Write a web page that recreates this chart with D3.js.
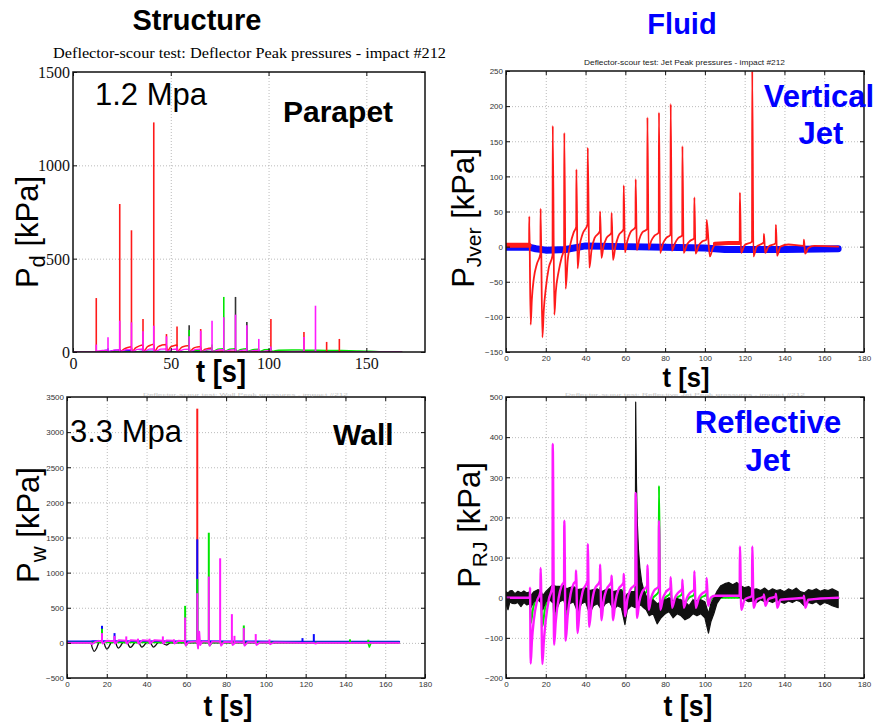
<!DOCTYPE html>
<html>
<head>
<meta charset="utf-8">
<script src="https://cdn.jsdelivr.net/npm/d3@7"></script>
<style>
  body { margin: 0; background: #fff; }
  svg { display: block; }
</style>
</head>
<body>
<script>
// ---------- Axis ticks ----------
const deflXTicks = [0, 50, 100, 150];
const deflYTicks = [0, 500, 1000, 1500];
const jetXTicks = [0, 20, 40, 60, 80, 100, 120, 140, 160, 180];
const jetYTicks = [-150, -100, -50, 0, 50, 100, 150, 200, 250];
const wallYTicks = [-500, 0, 500, 1000, 1500, 2000, 2500, 3000, 3500];
const reflYTicks = [-200, -100, 0, 100, 200, 300, 400, 500];

// ---------- Deflector (parapet) peak pressures [t (s), kPa] ----------
const deflRedPeaks = [[11.9,289],[23.9,793],[29.9,652],[35.8,177],[41.3,1230],[47.8,96],[53.2,137],[65.3,123],[101.2,177],[118.1,107],[129.7,54],[136.2,70]];
const deflBlackPeaks = [[59.4,143],[83.1,295],[88.9,161]];
const deflGreenPeaks = [[59.4,118],[71.1,40],[77.1,295],[101.2,20]];
const deflBluePeaks = [[17.9,20],[23.9,15]];
const deflPinkPeaks = [[11.9,40],[17.9,79],[23.9,168],[29.9,159],[35.8,111],[41.3,141],[47.8,84],[53.2,30],[59.4,84],[65.3,114],[71.1,168],[77.1,186],[83.1,200],[88.9,143],[95.0,70],[101.2,30],[118.1,80],[124.0,248]];
const deflRedBase = [[0,0],[23.8,0],[24.5,4],[26,15],[28,24],[29.8,28],[30.3,4],[32,22],[34,33],[35.7,37],[36.2,5],[38,28],[40,38],[41.2,42],[41.7,5],[43.5,28],[45.5,37],[47.7,40],[48.2,5],[50,27],[52,35],[53.1,38],[53.6,5],[55.5,25],[57.5,32],[59.3,35],[59.8,4],[61.5,20],[63.5,27],[65.2,30],[65.7,3],[67.5,15],[69.5,20],[71,22],[71.5,2],[76,5],[83,3],[100,1],[168,0]];
const deflGreenBase = [[0,0],[59,0],[60,3],[63,8],[65.2,10],[66,3],[69,12],[71,15],[71.6,3],[74,15],[77,18],[77.5,3],[80,15],[83,18],[83.5,3],[86,14],[88.8,17],[89.3,3],[92,12],[94.9,15],[95.4,3],[98,12],[101,14],[101.8,4],[105,10],[112,11],[118,10],[125,9],[135,8],[145,6],[152,4],[158,1],[168,0]];
const deflBlueBase = [[0,0],[14,0],[15,5],[17.8,10],[18.3,2],[21,9],[23.8,11],[24.3,2],[27,8],[29.8,9],[30.3,1],[36,4],[50,2],[70,1],[168,0]];
const deflPinkBase = [[0,0],[11.8,0],[12.2,5],[15,8],[17.8,10],[18.2,3],[21,10],[23.8,12],[24.3,3],[27,12],[29.8,14],[30.3,3],[33,14],[35.7,16],[36.2,3],[39,15],[41.2,17],[41.7,3],[45,15],[47.7,17],[48.2,3],[51,14],[53.1,16],[53.6,3],[57,14],[59.3,15],[59.8,3],[63,14],[65.2,15],[65.7,3],[69,13],[71,14],[71.5,3],[75,12],[77,13],[77.5,3],[81,11],[83,12],[83.5,3],[87,10],[88.8,11],[89.3,2],[93,9],[95,10],[95.5,2],[101,8],[102,1],[118,3],[119,1],[124,3],[125,0],[168,0]];
const deflBlackBase = [[0,1],[168,1]];

// ---------- Vertical jet pressures [t (s), kPa] ----------
const jetVerBlue = [[0,-1],[12,-1],[15,-3],[20,-5],[30,-4],[40,1],[60,0],[80,-1],[100,-2],[110,-4],[140,-4],[167,-3]];
const jetVerRedFlat1 = [[0,2],[11.6,2]];
const jetVerRedFlat2 = [[105,4],[112,5],[117.4,5]];
const jetVerRed = [
  [0,2],[11.6,2],[11.7,43],[12.4,-111],[13,-75],[14,-45],[15.5,-25],[17.3,-10],
  [17.4,54],[18.3,-129],[19,-90],[20,-60],[21.5,-30],[23.4,-12],
  [23.5,172],[24.3,-97],[25,-65],[26.5,-35],[28,-15],[29.2,-3],
  [29.3,162],[30,-60],[31,-20],[32.5,5],[34,20],[35.3,28],
  [35.4,110],[36,-31],[37,0],[38.5,18],[41,32],
  [41.1,141],[41.9,-30],[43,-5],[44.5,12],[47.2,22],
  [47.3,50],[48,-16],[49,0],[50.5,12],[53,20],
  [53.1,48],[53.8,-19],[55,0],[56.5,15],[59.1,25],
  [59.2,87],[59.8,-8],[61,8],[62.5,20],[65.1,28],
  [65.2,96],[65.8,-5],[67,10],[68.5,20],[71,25],
  [71.1,184],[71.7,-4],[73,8],[74.5,15],[76.8,20],
  [76.9,191],[77.5,-9],[79,5],[80.5,12],[82.7,17],
  [82.8,203],[83.4,-6],[85,5],[86.5,12],[88.6,16],
  [88.7,143],[89.3,-9],[91,3],[92.5,8],[94.6,12],
  [94.7,70],[95.3,-10],[97,2],[98.5,7],[100.8,10],
  [100.9,38],[102.5,-14],[104,-2],[106,5],[117.5,6],
  [117.6,77],[118.2,-9],[120,2],[123.7,7],
  [123.8,250],[124.4,-14],[126,0],[129.6,6],
  [129.7,18],[130.3,-9],[132,0],[135.6,5],
  [135.7,31],[136.3,-13],[138,0],[142,3],[149.7,1],
  [149.8,10],[150.4,-10],[152,-2],[155,1],[167,0]
];

// ---------- Wall pressures [t (s), kPa] ----------
const wallRedPeaks = [[65.5,3334]];
const wallBluePeaks = [[17.6,243],[23.9,139],[65.5,1474],[118.4,68],[124.1,125]];
const wallGreenPeaks = [[17.6,200],[59.4,527],[65.5,910],[71.3,1568],[88.9,248],[142.3,50],[151.5,45]];
const wallPinkPeaks = [[17.6,139],[23.9,100],[29.8,92],[35.7,60],[41.5,60],[48.2,92],[53.8,50],[59.4,361],[65.5,707],[71.3,944],[77.0,1204],[82.9,409],[84.2,100],[88.9,210],[94.9,125],[101.8,50]];
const wallBlueBase = [[0,18],[12,18],[13,22],[60,20],[66,24],[80,20],[110,16],[167,16]];
const wallGreenBase = [[0,5],[59,5],[59.9,-40],[61,5],[71,5],[71.8,-40],[73,5],[89,5],[89.4,-30],[90.5,5],[151.3,5],[152,-60],[153,5],[167,5]];
const wallBlack = [[0,0],[12,0],[12.6,-60],[13.7,-122],[14.8,-80],[15.8,-10],[16.5,10],[18.6,0],[19.2,-50],[20,-89],[21,-60],[22,-5],[22.6,10],[24.5,0],[25,-40],[25.8,-74],[26.8,-50],[27.8,-5],[28.5,8],[30.4,0],[31,-35],[31.8,-65],[32.8,-45],[33.8,-5],[34.5,8],[36.3,0],[36.8,-30],[37.6,-60],[38.6,-40],[39.6,-5],[40.3,5],[42,0],[42.6,-30],[43.4,-60],[44.4,-40],[45.4,-5],[46,5],[48,0],[49,-20],[50,-30],[51,-15],[52,0],[167,0]];
const wallPinkBase = [[0,0],[12,0],[12.5,-20],[14,10],[16,30],[17.5,20],[18,-10],[20,30],[23.8,25],[24.2,-10],[26,40],[29.7,30],[30.1,-10],[32,40],[35.6,30],[36,-10],[38,40],[41.4,30],[41.8,-10],[44,40],[48.1,30],[48.5,-10],[50,35],[53.7,30],[54.1,-10],[56,30],[59.3,25],[59.7,-40],[61,10],[65.4,20],[65.9,-80],[66.5,160],[67,-30],[68,20],[71.2,15],[71.7,-40],[73,20],[77,15],[77.5,-40],[79,15],[82.8,10],[83.3,-30],[85,10],[88.8,5],[89.3,-40],[91,10],[94.8,5],[95.3,-30],[97,5],[101.7,5],[102.2,-20],[104,5],[118,0],[124,0],[125,-10],[126,0],[167,0]];

// ---------- Reflective jet pressures ----------
// black trace envelope: [t (s), lower kPa, upper kPa]
const reflBlackBand = [
  [0,-15,15],[1,-30,12],[2,-10,17],[3,-14,18],[4.5,-15,10],[6,-12,16],[7.5,-22,12],[9,-12,17],[10.5,-18,12],[11.8,-15,14],
  [12.5,-25,5],[14,-10,15],[16,-5,20],[17.5,-12,18],[18.5,-30,5],[20,-10,15],[22,-5,25],[23.4,-12,32],[24.5,-15,30],[25,-35,28],
  [27,-10,28],[29,-5,30],[30.5,-30,22],[32,-15,25],[34,-10,28],[36,-35,20],[38,-15,22],[40,-10,25],[42,-40,18],[44,-20,20],
  [46,-15,22],[48,-30,15],[50,-15,20],[52,-10,22],[54,-30,15],[56,-20,18],[58,-25,20],[59.8,-67,0],[61,-30,10],[63,-20,15],
  [65,-25,15],[65.2,-20,487],[65.6,-18,286],[66,-15,190],[66.6,-16,120],[67.3,-18,75],[68.2,-20,40],[69.2,-25,20],[70.5,-30,5],
  [72,-45,-10],[74,-40,-5],[76,-65,-15],[78,-50,-10],[80,-40,-5],[82,-35,0],[84,-50,-8],[86,-40,-2],[88,-45,-5],[90,-55,-10],
  [92,-50,-20],[94,-40,-5],[96,-45,-8],[98,-40,-5],[100,-50,-10],[101.8,-88,-40],[103,-60,-15],[104.5,-40,0],[106,-15,15],
  [108,0,30],[110,5,35],[112,8,38],[114,3,32],[116,5,38],[118,0,30],[120,-5,25],[122,-10,28],[124,-8,20],[126,-12,22],
  [128,-5,18],[130,-10,24],[132,-8,16],[134,-12,22],[136,-6,18],[138,-10,20],[140,-14,15],[142,-8,22],[144,-12,18],
  [146,-6,24],[148,-10,15],[150,-20,12],[152,-12,20],[154,-15,18],[156,-10,22],[158,-18,16],[160,-12,20],[162,-15,18],
  [164,-20,22],[167,-25,15]
];
const reflGreen = [
  [0,0],[12,0],[12.5,-63],[13.5,-30],[15,-5],[17.3,5],[17.4,20],[18.3,-71],[19.5,-30],[21,-5],[23.4,8],
  [23.5,30],[24.2,-50],[26,-10],[29.2,12],[29.3,30],[30,-45],[32,-5],[35.1,15],[35.2,25],[36,-40],[38,0],[41,20],
  [41.1,30],[41.8,-35],[44,0],[47.2,20],[47.3,25],[48,-30],[50,0],[53,20],[53.1,25],[53.8,-30],[56,0],[59.1,20],
  [59.2,25],[59.9,-25],[62,0],[65.1,18],[65.2,40],[65.9,-25],[68,0],[71,18],[71.1,30],[71.8,-20],[74,0],[76.8,15],
  [76.9,279],[77.6,-20],[80,0],[82.7,12],[82.8,15],[83.5,-15],[86,0],[88.6,10],[88.7,15],[89.4,-15],[92,0],
  [94.6,8],[94.7,12],[95.4,-15],[98,0],[100.8,8],[100.9,10],[101.6,-15],[104,0],[149.7,0],[150.5,-20],[152,-3],[167,0]
];
const reflPink = [
  [0,0],[12,0],[12.1,25],[12.4,-164],[13,-110],[14,-55],[15.5,-10],[17.3,15],
  [17.4,74],[18.3,-165],[19,-110],[20,-55],[21.5,-5],[23.4,30],
  [23.5,383],[24.2,-117],[25,-60],[26.5,0],[28,30],[29.2,40],
  [29.3,192],[30,-107],[31,-45],[32.5,10],[34,35],[35.1,42],
  [35.2,68],[36,-88],[37,-30],[38.5,15],[41,42],
  [41.1,134],[41.8,-73],[43,-20],[44.5,20],[47.2,42],
  [47.3,82],[48,-56],[49,-10],[50.5,20],[53,40],
  [53.1,55],[53.8,-56],[55,-10],[56.5,20],[59.1,38],
  [59.2,59],[59.9,-46],[61,-5],[62.5,20],[65.1,35],
  [65.2,261],[65.9,-50],[67,-10],[68.5,15],[71,30],
  [71.1,81],[71.8,-30],[73,0],[74.5,18],[76.8,28],
  [76.9,192],[77.6,-30],[79,0],[80.5,15],[82.7,25],
  [82.8,51],[83.5,-25],[85,0],[86.5,12],[88.6,22],
  [88.7,45],[89.4,-25],[91,0],[92.5,12],[94.6,20],
  [94.7,66],[95.4,-25],[97,0],[98.5,10],[100.8,18],
  [100.9,49],[101.6,-20],[103,0],[105,5],[117.5,5],
  [117.6,128],[118.3,-30],[120,-5],[123.7,5],
  [123.8,128],[124.5,-25],[126,-5],[129.6,3],
  [129.7,8],[130.4,-20],[132,-3],[135.6,3],
  [135.7,10],[136.4,-25],[138,-5],[149.7,0],
  [149.8,5],[150.5,-25],[152,-5],[167,0]
];

// ---------- Drawing ----------
const SANS = "Arial, 'Liberation Sans', Helvetica, sans-serif";
const SERIF = "'Times New Roman', 'Liberation Serif', serif";
const RED = '#ff1a1a', BLUE = '#0a0aff', GREEN = '#00e600', PINK = '#ff1aff', BLACK = '#111';

const svg = d3.select('body').append('svg').attr('width', 878).attr('height', 722);
svg.append('rect').attr('width', 878).attr('height', 722).attr('fill', '#fff');
const defs = svg.append('defs');

function makePanel(c) {
  const x = d3.scaleLinear().domain(c.xDomain).range([c.left, c.right]);
  const y = d3.scaleLinear().domain(c.yDomain).range([c.bottom, c.top]);
  const w = c.right - c.left, h = c.bottom - c.top;
  const g = svg.append('g');
  const inner = (arr, dom) => arr.filter(v => v > dom[0] && v < dom[1]);
  g.append('g').attr('transform', `translate(0,${c.bottom})`)
    .call(d3.axisBottom(x).tickValues(inner(c.xTicks, c.xDomain)).tickSize(-h).tickFormat(''))
    .call(s => { s.select('.domain').remove(); s.selectAll('line').attr('stroke', '#aaa').attr('stroke-width', 0.8).attr('stroke-dasharray', '1 2'); });
  g.append('g').attr('transform', `translate(${c.left},0)`)
    .call(d3.axisLeft(y).tickValues(inner(c.yTicks, c.yDomain)).tickSize(-w).tickFormat(''))
    .call(s => { s.select('.domain').remove(); s.selectAll('line').attr('stroke', '#aaa').attr('stroke-width', 0.8).attr('stroke-dasharray', '1 2'); });
  const clipId = 'clip-' + c.id;
  defs.append('clipPath').attr('id', clipId).append('rect')
    .attr('x', c.left).attr('y', c.top).attr('width', w).attr('height', h);
  const plot = g.append('g').attr('clip-path', `url(#${clipId})`);
  return { x, y, g, plot, c };
}

function finishPanel(p) {
  const { x, y, g, c } = p;
  const T = 4, fmt = d3.format('d');
  const style = s => {
    s.select('.domain').remove();
    s.selectAll('line').attr('stroke', '#111').attr('stroke-width', 1);
    s.attr('font-family', c.tickFont).attr('font-size', c.tickSize);
  };
  const bx = g.append('g').attr('transform', `translate(0,${c.bottom})`)
    .call(d3.axisBottom(x).tickValues(c.xTicks).tickSize(-T).tickFormat(fmt)).call(style);
  g.append('g').attr('transform', `translate(0,${c.top})`)
    .call(d3.axisTop(x).tickValues(c.xTicks).tickSize(-T).tickFormat('')).call(style);
  const ly = g.append('g').attr('transform', `translate(${c.left},0)`)
    .call(d3.axisLeft(y).tickValues(c.yTicks).tickSize(-T).tickPadding(c.yPad).tickFormat(fmt)).call(style);
  g.append('g').attr('transform', `translate(${c.right},0)`)
    .call(d3.axisRight(y).tickValues(c.yTicks).tickSize(-T).tickFormat('')).call(style);
  // tick label baselines sit a fixed distance under the frame
  bx.selectAll('text').attr('y', c.xLabelY).attr('dy', null).attr('fill', c.tickColor);
  ly.selectAll('text').attr('dy', '0.35em').attr('fill', c.tickColor);
  g.append('rect').attr('x', c.left).attr('y', c.top)
    .attr('width', c.right - c.left).attr('height', c.bottom - c.top)
    .attr('fill', 'none').attr('stroke', '#111').attr('stroke-width', 1.5);
}

function drawPath(p, data, color, width, curve) {
  const line = d3.line().x(d => p.x(d[0])).y(d => p.y(d[1])).curve(curve || d3.curveLinear);
  p.plot.append('path').datum(data).attr('d', line)
    .attr('fill', 'none').attr('stroke', color).attr('stroke-width', width)
    .attr('stroke-linejoin', 'round').attr('stroke-linecap', 'round');
}
function drawSpikes(p, data, color, width) {
  p.plot.append('g').selectAll('line').data(data).join('line')
    .attr('x1', d => p.x(d[0])).attr('x2', d => p.x(d[0]))
    .attr('y1', p.y(0)).attr('y2', d => p.y(d[1]))
    .attr('stroke', color).attr('stroke-width', width);
}
function drawBand(p, data, color) {
  const area = d3.area().x(d => p.x(d[0])).y0(d => p.y(d[1])).y1(d => p.y(d[2]));
  p.plot.append('path').datum(data).attr('d', area).attr('fill', color)
    .attr('stroke', color).attr('stroke-width', 1.2).attr('stroke-linejoin', 'round');
}

const smallTicks = { tickFont: SANS, tickSize: 8, tickColor: '#333', xLabelY: 9, yPad: 3 };

// Parapet (deflector)
const p1 = makePanel({ id: 'defl', left: 73, right: 425, top: 72, bottom: 352,
  xDomain: [0, 180], yDomain: [0, 1500], xTicks: deflXTicks, yTicks: deflYTicks,
  tickFont: SERIF, tickSize: 16, tickColor: '#111', xLabelY: 17, yPad: 3 });
drawPath(p1, deflBlackBase, BLACK, 1.2);
drawPath(p1, deflBlueBase, BLUE, 1.3, d3.curveMonotoneX);
drawPath(p1, deflRedBase, RED, 1.5, d3.curveMonotoneX);
drawPath(p1, deflGreenBase, GREEN, 1.5, d3.curveMonotoneX);
drawPath(p1, deflPinkBase, PINK, 1.3, d3.curveMonotoneX);
drawSpikes(p1, deflRedPeaks, RED, 1.6);
drawSpikes(p1, deflBlackPeaks, '#333', 1.6);
drawSpikes(p1, deflGreenPeaks, GREEN, 1.6);
drawSpikes(p1, deflBluePeaks, BLUE, 1.6);
drawSpikes(p1, deflPinkPeaks, PINK, 1.6);
finishPanel(p1);

// Vertical jet
const p2 = makePanel({ id: 'jet', left: 506, right: 864, top: 71, bottom: 352,
  xDomain: [0, 180], yDomain: [-150, 250], xTicks: jetXTicks, yTicks: jetYTicks, ...smallTicks });
drawPath(p2, jetVerBlue, BLUE, 7);
drawPath(p2, jetVerRedFlat1, RED, 5);
drawPath(p2, jetVerRedFlat2, RED, 4);
drawPath(p2, jetVerRed, RED, 1.8, d3.curveMonotoneX);
finishPanel(p2);

// Wall
const p3 = makePanel({ id: 'wall', left: 67, right: 425, top: 397, bottom: 678,
  xDomain: [0, 180], yDomain: [-500, 3500], xTicks: jetXTicks, yTicks: wallYTicks, ...smallTicks });
drawPath(p3, wallBlueBase, BLUE, 2);
drawPath(p3, wallBlack, BLACK, 1.3, d3.curveMonotoneX);
drawPath(p3, wallGreenBase, GREEN, 1.5);
drawSpikes(p3, wallRedPeaks, RED, 2);
drawSpikes(p3, wallBluePeaks, BLUE, 2);
drawSpikes(p3, wallGreenPeaks, GREEN, 2);
drawSpikes(p3, wallPinkPeaks, PINK, 2);
drawPath(p3, wallPinkBase, PINK, 1.8);
finishPanel(p3);

// Reflective jet
const p4 = makePanel({ id: 'refl', left: 506, right: 864, top: 397, bottom: 678,
  xDomain: [0, 180], yDomain: [-200, 500], xTicks: jetXTicks, yTicks: reflYTicks, ...smallTicks });
drawPath(p4, reflGreen, GREEN, 2, d3.curveMonotoneX);
drawBand(p4, reflBlackBand, BLACK);
drawPath(p4, reflPink, PINK, 2.4, d3.curveMonotoneX);
finishPanel(p4);

// ---------- Text ----------
function txt(x, y, s, o) {
  const t = svg.append('text').attr('x', x).attr('y', y).text(s)
    .attr('font-family', o.family || SANS).attr('font-size', o.size)
    .attr('font-weight', o.weight || 'normal').attr('fill', o.fill || '#000')
    .attr('text-anchor', o.anchor || 'start');
  if (o.len) t.attr('textLength', o.len).attr('lengthAdjust', 'spacingAndGlyphs');
  if (o.opacity) t.attr('opacity', o.opacity);
  return t;
}

txt(197, 30, 'Structure', { size: 29, weight: 'bold', anchor: 'middle' });
txt(682, 34, 'Fluid', { size: 29, weight: 'bold', anchor: 'middle', fill: '#0000ff' });

txt(53, 58, 'Deflector-scour test: Deflector Peak pressures - impact #212', { family: SERIF, size: 15, len: 393 });
txt(584, 64.5, 'Deflector-scour test: Jet Peak pressures - impact #212', { size: 7.5, len: 201, fill: '#222' });
txt(143, 396, 'Deflector-scour test: Wall Peak pressures - impact #212', { size: 3.2, len: 205, fill: '#999', opacity: 0.6 });
txt(565, 396, 'Deflector-scour test: Reflective Jet Peak pressures - impact #212', { size: 3.2, len: 240, fill: '#999', opacity: 0.6 });

txt(95, 105, '1.2 Mpa', { size: 31 });
txt(283, 122, 'Parapet', { size: 30, weight: 'bold' });
txt(819, 107, 'Vertical', { size: 31, weight: 'bold', anchor: 'middle', fill: '#0000ff' });
txt(821, 144, 'Jet', { size: 31, weight: 'bold', anchor: 'middle', fill: '#0000ff' });
txt(70, 442, '3.3 Mpa', { size: 31 });
txt(333, 445, 'Wall', { size: 30, weight: 'bold' });
txt(768, 433, 'Reflective', { size: 31, weight: 'bold', anchor: 'middle', fill: '#0000ff' });
txt(768, 471, 'Jet', { size: 31, weight: 'bold', anchor: 'middle', fill: '#0000ff' });

// time axis titles: [centre x, baseline, font size, width]
[[221, 382, 31, 50], [686, 387.4, 27, 47], [228, 716, 29, 49], [688, 716, 29, 49]].forEach(([cx, by, fs, len]) => {
  txt(cx - len / 2, by, 't [s]', { size: fs, weight: 'bold', len: len });
});

// pressure axis titles with subscripts
function pLabel(bx, cy, sub, subSize) {
  const t = svg.append('text').attr('transform', `translate(${bx},${cy}) rotate(-90)`)
    .attr('text-anchor', 'middle').attr('font-family', SANS).attr('font-size', 31).attr('fill', '#000');
  t.append('tspan').text('P');
  t.append('tspan').attr('dy', 7).attr('font-size', subSize).text(sub);
  t.append('tspan').attr('dy', -7).text(' [kPa]');
}
pLabel(38, 232, 'd', 22);
pLabel(474, 218, 'Jver', 21);
pLabel(39, 525, 'w', 22);
pLabel(480, 525, 'RJ', 21);
</script>
</body>
</html>
